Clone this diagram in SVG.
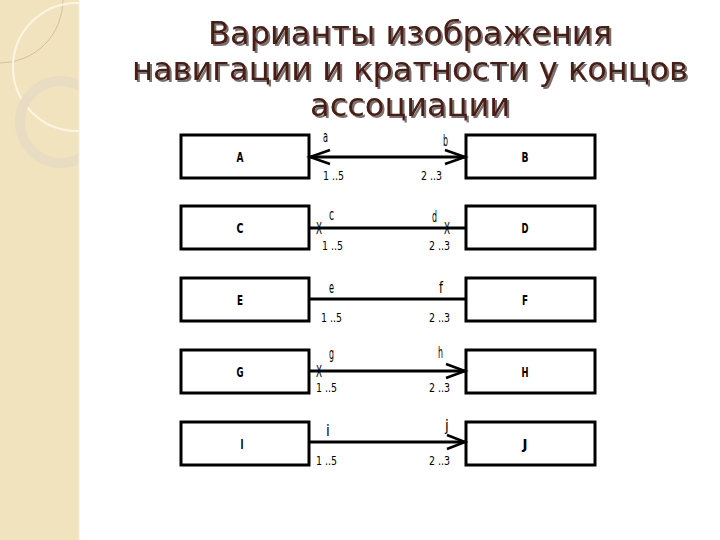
<svg xmlns="http://www.w3.org/2000/svg" width="720" height="540" viewBox="0 0 720 540">
  <defs>
    <clipPath id="side"><rect x="0" y="0" width="79" height="540"/></clipPath>
    <filter id="shadow" x="-5%" y="-20%" width="110%" height="150%">
      <feDropShadow dx="2" dy="2" stdDeviation="0.6" flood-color="#000" flood-opacity="0.55"/>
    </filter>
  </defs>
  <style>
    .title { font-family: "DejaVu Sans", Verdana, sans-serif; font-size: 32px; fill: #4a1c12; text-anchor: middle; }
    .box { fill: #ffffff; stroke: #000; stroke-width: 3; }
    .lbl { font-family: "DejaVu Sans Condensed", "Liberation Sans", sans-serif; font-size: 14px; font-weight: bold; fill: #000; text-anchor: middle; }
    .sm { font-family: "DejaVu Sans Condensed", "Liberation Sans", sans-serif; font-size: 13px; fill: #000; }
    .lt { font-family: "DejaVu Sans Condensed", "Liberation Sans", sans-serif; font-size: 15px; fill: #000; }
    .line { stroke: #000; stroke-width: 3; fill: none; }
    .arrow { stroke: #000; stroke-width: 2.5; fill: none; stroke-linejoin: miter; }
  </style>

  <rect x="0" y="0" width="720" height="540" fill="#ffffff"/>
  <g id="sidebar">
    <rect x="0" y="0" width="79" height="540" fill="#f2e3bf"/>
    <g clip-path="url(#side)">
      <path d="M 63 0 A 63 63 0 0 1 0 63" fill="none" stroke="#c9b791" stroke-width="0.8"/>
      <circle cx="77" cy="67" r="64" fill="none" stroke="#fbf5e6" stroke-width="2"/>
      <circle cx="61" cy="122" r="41" fill="none" stroke="#e8dcc2" stroke-width="10"/>
    </g>
    <line x1="79" y1="0" x2="79" y2="540" stroke="#f7eed8" stroke-width="1"/>
  </g>

  <g id="title" filter="url(#shadow)">
    <text class="title" x="410" y="44">Варианты изображения</text>
    <text class="title" x="410" y="80">навигации и кратности у концов</text>
    <text class="title" x="410" y="116">ассоциации</text>
  </g>

  <g id="nodeA"><rect class="box" x="181" y="135" width="128" height="43"/><text class="lbl" x="240" y="162" textLength="7" lengthAdjust="spacingAndGlyphs">A</text></g>
  <g id="nodeB"><rect class="box" x="466" y="135" width="129" height="43"/><text class="lbl" x="525" y="162" textLength="7" lengthAdjust="spacingAndGlyphs">B</text></g>
  <g id="nodeC"><rect class="box" x="181" y="206" width="128" height="43"/><text class="lbl" x="240" y="233" textLength="7" lengthAdjust="spacingAndGlyphs">C</text></g>
  <g id="nodeD"><rect class="box" x="466" y="206" width="129" height="43"/><text class="lbl" x="525" y="233" textLength="7" lengthAdjust="spacingAndGlyphs">D</text></g>
  <g id="nodeE"><rect class="box" x="181" y="278" width="128" height="43"/><text class="lbl" x="240" y="305" textLength="6" lengthAdjust="spacingAndGlyphs">E</text></g>
  <g id="nodeF"><rect class="box" x="466" y="278" width="129" height="43"/><text class="lbl" x="525" y="305" textLength="6" lengthAdjust="spacingAndGlyphs">F</text></g>
  <g id="nodeG"><rect class="box" x="181" y="350" width="128" height="43"/><text class="lbl" x="240" y="377" textLength="7" lengthAdjust="spacingAndGlyphs">G</text></g>
  <g id="nodeH"><rect class="box" x="466" y="350" width="129" height="43"/><text class="lbl" x="525" y="377" textLength="7" lengthAdjust="spacingAndGlyphs">H</text></g>
  <g id="nodeI"><rect class="box" x="181" y="422" width="128" height="43"/><text class="lbl" x="242" y="449" textLength="3" lengthAdjust="spacingAndGlyphs">I</text></g>
  <g id="nodeJ"><rect class="box" x="466" y="422" width="129" height="43"/><text class="lbl" x="525" y="449" textLength="5" lengthAdjust="spacingAndGlyphs">J</text></g>

  <g id="connectors">
    <line class="line" x1="309" y1="157" x2="466" y2="157"/>
    <polyline class="arrow" points="330,150 310,157 330,164"/>
    <polyline class="arrow" points="445,150 465,157 445,164"/>
    <line class="line" x1="309" y1="228" x2="466" y2="228"/>
    <line class="line" x1="309" y1="299" x2="466" y2="299"/>
    <line class="line" x1="309" y1="371" x2="466" y2="371"/>
    <polyline class="arrow" points="446,364 465,371 446,378"/>
    <line class="line" x1="309" y1="442" x2="466" y2="442"/>
    <polyline class="arrow" points="447,435 465,442 447,449"/>
  </g>

  <g id="end-labels">
    <text class="lt" x="323" y="142" textLength="5" lengthAdjust="spacingAndGlyphs">a</text>
    <text class="lt" x="443" y="146" textLength="5" lengthAdjust="spacingAndGlyphs">b</text>
    <text class="sm" x="323" y="180" textLength="21" lengthAdjust="spacingAndGlyphs">1 ..5</text>
    <text class="sm" x="421" y="180" textLength="21" lengthAdjust="spacingAndGlyphs">2 ..3</text>

    <text class="lt" x="316" y="234" textLength="6" lengthAdjust="spacingAndGlyphs">X</text>
    <text class="lt" x="444" y="234" textLength="6" lengthAdjust="spacingAndGlyphs">X</text>
    <text class="lt" x="329" y="220" textLength="5" lengthAdjust="spacingAndGlyphs">c</text>
    <text class="lt" x="432" y="222" textLength="5" lengthAdjust="spacingAndGlyphs">d</text>
    <text class="sm" x="322" y="250" textLength="21" lengthAdjust="spacingAndGlyphs">1 ..5</text>
    <text class="sm" x="429" y="250" textLength="21" lengthAdjust="spacingAndGlyphs">2 ..3</text>

    <text class="lt" x="329" y="293" textLength="5" lengthAdjust="spacingAndGlyphs">e</text>
    <text class="lt" x="439" y="293" textLength="4" lengthAdjust="spacingAndGlyphs">f</text>
    <text class="sm" x="321" y="322" textLength="21" lengthAdjust="spacingAndGlyphs">1 ..5</text>
    <text class="sm" x="429" y="322" textLength="21" lengthAdjust="spacingAndGlyphs">2 ..3</text>

    <text class="lt" x="316" y="377" textLength="6" lengthAdjust="spacingAndGlyphs">X</text>
    <text class="lt" x="329" y="359" textLength="5" lengthAdjust="spacingAndGlyphs">g</text>
    <text class="lt" x="438" y="358" textLength="5" lengthAdjust="spacingAndGlyphs">h</text>
    <text class="sm" x="316" y="392" textLength="21" lengthAdjust="spacingAndGlyphs">1 ..5</text>
    <text class="sm" x="429" y="392" textLength="21" lengthAdjust="spacingAndGlyphs">2 ..3</text>

    <text class="lt" x="326" y="436">i</text>
    <text class="lt" x="445" y="431">j</text>
    <text class="sm" x="316" y="465" textLength="21" lengthAdjust="spacingAndGlyphs">1 ..5</text>
    <text class="sm" x="429" y="465" textLength="21" lengthAdjust="spacingAndGlyphs">2 ..3</text>
  </g>
</svg>
